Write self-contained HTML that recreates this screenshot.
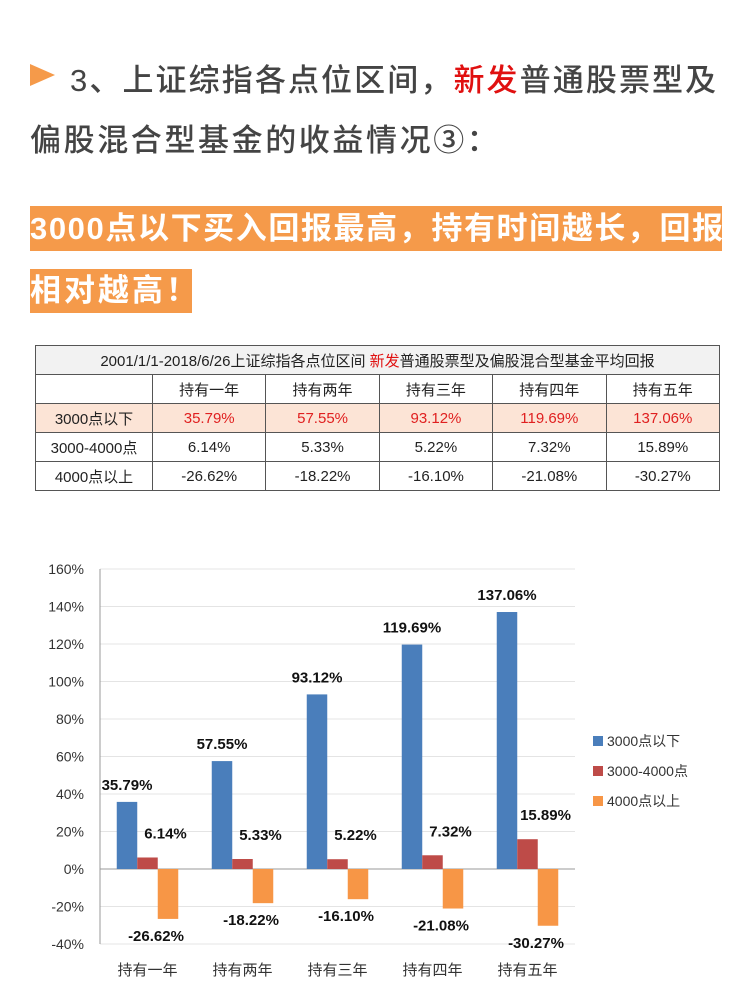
<!DOCTYPE html>
<html><head><meta charset="utf-8">
<style>
body{margin:0;width:750px;height:989px;background:#fff;position:relative;overflow:hidden;font-family:"Liberation Sans","Noto Sans CJK SC",sans-serif;}
.abs{position:absolute;white-space:nowrap;}
.t1{color:#444;font-size:31px;letter-spacing:2.6px;font-weight:500;}
.box{background:#f59a4a;color:#fff;font-size:31px;font-weight:bold;}
table{border-collapse:collapse;position:absolute;left:35px;top:345px;width:685px;font-size:15px;color:#222;}
td{border:1px solid #555;text-align:center;height:28px;padding:0;}
.hd td{background:#f2f2f2;font-size:15px;}
.r1 td{background:#fce4d6;color:#e02020;}
.r1 td:first-child{color:#222;}
</style></head><body>
<div class="abs" style="left:30px;top:64px;width:0;height:0;border-left:25px solid #f59a4a;border-top:11px solid transparent;border-bottom:11px solid transparent;"></div>
<div class="abs t1" style="left:70px;top:55px;letter-spacing:2.1px;">3、上证综指各点位区间，<span style="color:#e01010">新发</span>普通股票型及</div>
<div class="abs t1" style="left:30px;top:115px;">偏股混合型基金的收益情况③：</div>
<div class="abs box" style="left:30px;top:206px;width:692px;height:45px;line-height:45px;letter-spacing:1.6px;">3000点以下买入回报最高，持有时间越长，回报</div>
<div class="abs box" style="left:30px;top:269px;width:162px;height:44px;line-height:44px;letter-spacing:3px;">相对越高！</div>
<table>
<tr class="hd"><td colspan="6">2001/1/1-2018/6/26上证综指各点位区间 <span style="color:#e01010">新发</span>普通股票型及偏股混合型基金平均回报</td></tr>
<tr><td style="width:116px"></td><td>持有一年</td><td>持有两年</td><td>持有三年</td><td>持有四年</td><td>持有五年</td></tr>
<tr class="r1"><td>3000点以下</td><td>35.79%</td><td>57.55%</td><td>93.12%</td><td>119.69%</td><td>137.06%</td></tr>
<tr><td>3000-4000点</td><td>6.14%</td><td>5.33%</td><td>5.22%</td><td>7.32%</td><td>15.89%</td></tr>
<tr><td>4000点以上</td><td>-26.62%</td><td>-18.22%</td><td>-16.10%</td><td>-21.08%</td><td>-30.27%</td></tr>
</table>
<svg id="chart" class="abs" style="left:0;top:0" width="750" height="989"></svg>
<script>
const categories=["持有一年","持有两年","持有三年","持有四年","持有五年"];
const seriesNames=["3000点以下","3000-4000点","4000点以上"];
const below3000=[35.79,57.55,93.12,119.69,137.06];
const mid=[6.14,5.33,5.22,7.32,15.89];
const above4000=[-26.62,-18.22,-16.10,-21.08,-30.27];
const ticks=[160,140,120,100,80,60,40,20,0,-20,-40];
const colors=["#4a7ebb","#be4b48","#f79646"];
const svg=document.getElementById('chart');
const NS="http://www.w3.org/2000/svg";
const x0=100,x1=575,yTop=569,yBot=944,vMax=160,vMin=-40;
const y=v=>yTop+(vMax-v)*(yBot-yTop)/(vMax-vMin);
const cw=(x1-x0)/categories.length;
function mk(t,a){const e=document.createElementNS(NS,t);for(const k in a)e.setAttribute(k,a[k]);svg.appendChild(e);return e;}
ticks.forEach(t=>{
 const g=mk('line',{x1:x0,x2:x1,y1:y(t),y2:y(t),stroke:t===0?'#999':'#e4e4e4','stroke-width':1});
 
 
 const l=mk('text',{x:x0-16,y:y(t)+5,'text-anchor':'end','font-size':14,fill:'#333'});
 l.textContent=t+'%';
 
 
});
const ax=mk('line',{x1:x0,x2:x0,y1:yTop,y2:yBot,stroke:'#999'});


const series=[below3000,mid,above4000];
const bw=20.5;
categories.forEach((c,i)=>{
 const cx=x0+cw*(i+0.5);
 series.forEach((s,j)=>{
  const v=s[i];const bx=cx-bw*1.5+j*bw;
  const r=mk('rect',{x:bx,y:Math.min(y(v),y(0)),width:bw,height:Math.abs(y(v)-y(0)),fill:colors[j]});
  
  
  let tx,ty;
  if(j===0){tx=bx+bw/2;ty=y(v)-12;}
  else if(j===1){tx=bx+bw/2+18;ty=Math.min(y(v),y(0))-19;}
  else {tx=bx+bw/2-12;ty=y(v)+22;}
  const t=mk('text',{x:tx,y:ty,'text-anchor':'middle','font-size':15,'font-weight':'bold',fill:'#111'});
  t.textContent=v.toFixed(2)+'%';
  
  
 });
 const l=mk('text',{x:cx,y:975,'text-anchor':'middle','font-size':15,fill:'#333'});
 l.textContent=c;
 
 
});
seriesNames.forEach((n,j)=>{
 const ly=741+j*30;
 const r=mk('rect',{x:593,y:ly-5,width:10,height:10,fill:colors[j]});
 
 
 const t=mk('text',{x:607,y:ly+5,'font-size':14,fill:'#333'});
 t.textContent=n;
 
 
});
</script>
</body></html>
